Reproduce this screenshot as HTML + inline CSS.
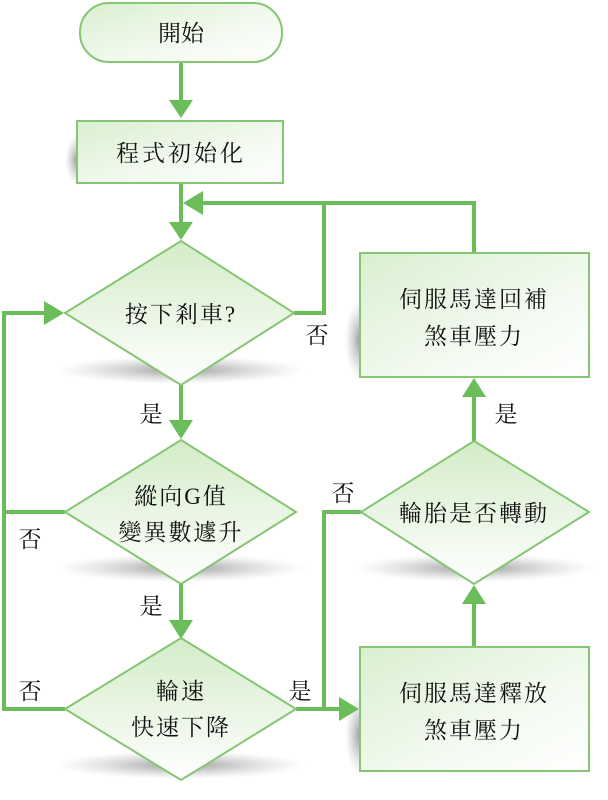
<!DOCTYPE html>
<html><head><meta charset="utf-8"><style>
html,body{margin:0;padding:0;background:#fff;width:608px;height:800px;overflow:hidden}
text{font-family:"Liberation Serif","Noto Serif CJK SC","Noto Sans CJK TC",serif;font-size:23px;fill:#111;text-anchor:middle}
</style></head><body>
<svg width="608" height="800" viewBox="0 0 608 800" xmlns="http://www.w3.org/2000/svg">
<defs>
<linearGradient id="g" x1="0" y1="0" x2="1" y2="1"><stop offset="0" stop-color="#d9efd0"/><stop offset="0.6" stop-color="#f3faf0"/><stop offset="1" stop-color="#ffffff"/></linearGradient>
<linearGradient id="gd" x1="0" y1="0" x2="0" y2="1"><stop offset="0" stop-color="#d3ecc8"/><stop offset="1" stop-color="#ffffff"/></linearGradient>
<radialGradient id="sh"><stop offset="0" stop-color="#888" stop-opacity="0.85"/><stop offset="1" stop-color="#bbb" stop-opacity="0"/></radialGradient>
</defs>
<g fill="url(#sh)">
<ellipse cx="181" cy="370" rx="125" ry="14"/>
<ellipse cx="181" cy="568" rx="125" ry="14"/>
<ellipse cx="181" cy="765" rx="125" ry="14"/>
<ellipse cx="474" cy="568" rx="120" ry="14"/>
<ellipse cx="360" cy="340" rx="15" ry="40"/>
<ellipse cx="360" cy="735" rx="15" ry="40"/>
<ellipse cx="77" cy="160" rx="12" ry="25"/>
</g>
<g stroke="#6bbd5a" stroke-width="4" fill="none">
<line x1="181" y1="62" x2="181" y2="100"/>
<line x1="181" y1="183" x2="181" y2="225"/>
<polyline points="474,253 474,203 200,203"/>
<polyline points="294,313 324,313 324,203"/>
<line x1="181" y1="385" x2="181" y2="422"/>
<line x1="181" y1="584" x2="181" y2="622"/>
<polyline points="65,512 4,512"/>
<polyline points="65,709 4,709 4,313 45,313"/>
<polyline points="296,709 340,709"/>
<polyline points="361,512 324,512 324,709"/>
<line x1="474" y1="647" x2="474" y2="602"/>
<line x1="474" y1="441" x2="474" y2="396"/>
</g>
<g fill="#6bbd5a">
<polygon points="169,100 193,100 181,118"/>
<polygon points="169,222 193,222 181,240"/>
<polygon points="203,191 203,215 183,203"/>
<polygon points="169,420 193,420 181,439"/>
<polygon points="169,620 193,620 181,639"/>
<polygon points="44,301 44,325 64,313"/>
<polygon points="339,697 339,721 359,709"/>
<polygon points="462,604 486,604 474,585"/>
<polygon points="462,397 486,397 474,378"/>
</g>
<g stroke="#86c574" stroke-width="2" fill="url(#g)">
<rect x="80" y="3" width="202" height="59" rx="29"/>
<rect x="77" y="121" width="206" height="62"/>
<rect x="360" y="253" width="229" height="124"/>
<rect x="360" y="647" width="229" height="124"/>
</g>
<g stroke="#86c574" stroke-width="2" fill="url(#gd)">
<polygon points="181,241 294,313 181,385 65,313"/>
<polygon points="181,440 296,512 181,584 65,512"/>
<polygon points="181,638 296,709 181,780 65,709"/>
<polygon points="474,441 589,512 474,584 361,512"/>
</g>
<text x="181" y="41">開始</text>
<text x="181" y="161" letter-spacing="3">程式初始化</text>
<text x="181" y="322" letter-spacing="2">按下剎車?</text>
<text x="181" y="504" letter-spacing="2">縱向G值</text>
<text x="181" y="540" letter-spacing="2">變異數遽升</text>
<text x="181" y="699" letter-spacing="2">輪速</text>
<text x="181" y="735" letter-spacing="2">快速下降</text>
<text x="474" y="521" letter-spacing="2">輪胎是否轉動</text>
<text x="474" y="307" letter-spacing="2">伺服馬達回補</text>
<text x="474" y="344" letter-spacing="2">煞車壓力</text>
<text x="474" y="701" letter-spacing="2">伺服馬達釋放</text>
<text x="474" y="738" letter-spacing="2">煞車壓力</text>
<text x="317" y="343">否</text>
<text x="151" y="422">是</text>
<text x="30" y="547">否</text>
<text x="151" y="614">是</text>
<text x="30" y="699">否</text>
<text x="300" y="699">是</text>
<text x="343" y="501">否</text>
<text x="506" y="422">是</text>
</svg>
</body></html>
